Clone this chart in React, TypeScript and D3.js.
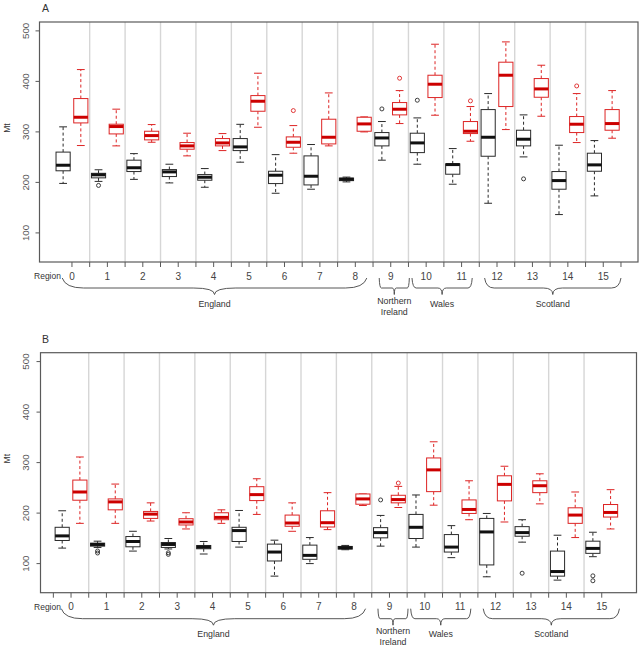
import React from "react";
import * as d3 from "d3";

// ---------- DATA ----------
const regionLabels = ["0", "1", "2", "3", "4", "5", "6", "7", "8", "9", "10", "11", "12", "13", "14", "15"];
const groupNames = ["England", "Northern Ireland", "Wales", "Scotland"];
const yTicks = [100, 200, 300, 400, 500];

// Each row: [lower whisker, Q1, median, Q3, upper whisker]
const aBlack = [
  [198, 223, 234, 260, 310], [202, 209, 215, 218, 225], [206, 221.5, 229, 244, 257], [199, 211.6, 220.8, 225.4, 236],
  [190.4, 204.3, 210.2, 215.5, 227.4], [240, 263, 270.3, 286.8, 315], [178.5, 197.7, 214.2, 222.1, 255], [186.5, 195, 212.2, 252.5, 275],
  [201, 203.5, 206.3, 208.5, 210.5], [244, 272.3, 288, 298.7, 320.5], [236, 259, 278.2, 297.4, 327.7], [196.4, 216.2, 235.3, 236.6, 267],
  [158.7, 251.8, 289.4, 344.2, 375.9], [250.5, 272.3, 285.5, 303.3, 333.7], [136.3, 186.5, 203.6, 221.5, 273.6], [173.3, 222.1, 234.7, 257.8, 282.8],
];
const aBlackOut = [[], [194], [], [], [], [], [], [], [], [345.5], [362.7], [], [], [207], [], []];
const aRed = [
  [273, 317.8, 329, 366, 423.4], [272.3, 296, 310.6, 315.2, 345], [279.5, 284.2, 292.7, 301.3, 314.5], [252.5, 265.7, 272.3, 278.9, 297.4],
  [263, 272.3, 278.2, 286.8, 296.7], [309.2, 340.9, 360.7, 371.9, 416.2], [257.8, 269.6, 279.5, 290.1, 312.5], [272.3, 276.2, 289.4, 325.1, 377.2],
  [300, 301.3, 315.8, 329, 329.7], [316.5, 333.7, 344.9, 358.1, 381.8], [333, 368, 394.4, 412.2, 473.6], [281.5, 296.7, 301.3, 320.5, 350.2],
  [304.6, 350.2, 412.2, 438, 478.2], [331, 368.6, 385.1, 405.6, 432], [278.9, 298.7, 315.2, 330.4, 375.9], [287.5, 303.3, 316.5, 344.2, 381.8],
];
const aRedOut = [[], [], [], [], [], [], [342.2], [], [], [406.3], [], [361.4], [], [], [391], []];

const bBlack = [
  [130.7, 145.8, 154.9, 171.9, 204.6], [132, 134.6, 137.9, 140.5, 144.4], [124.8, 133.3, 143.8, 153.6, 164], [129, 132, 137.9, 141.8, 149.7],
  [119, 129.4, 132.7, 135.9, 143.8], [132.7, 143.8, 165.4, 171.9, 205.2], [75.2, 105.2, 122.9, 138.6, 146.4], [100, 108.5, 116.3, 136.6, 151.6],
  [127.5, 128.8, 131.4, 134, 136], [134.6, 151, 161.4, 171.2, 195.4], [132.7, 149.7, 171.9, 197.4, 235.9], [111.8, 122.9, 132.7, 157.5, 175.2],
  [73.9, 97.4, 162.7, 189.5, 199.3], [142.5, 154.2, 161.4, 173.2, 186.9], [67.3, 75.2, 84.3, 124.8, 156.2], [113.7, 120.3, 130.1, 144.4, 162.1],
];
const bBlackOut = [[], [125, 121], [], [121.5, 118.3], [], [], [], [], [], [226.1], [], [], [], [81], [], [75.8, 66]];
const bRed = [
  [179.7, 225.5, 241.8, 265.4, 311.1], [179.7, 206.5, 222.2, 228.1, 257.5], [184.3, 189.5, 198, 203.3, 220.3], [168.6, 176.5, 182.4, 188.9, 200.7],
  [179.7, 186.9, 191.5, 200.7, 206.5], [197.4, 224.8, 236.6, 252.3, 268], [164, 173.9, 180.4, 196.1, 220.3], [167.3, 172.5, 181, 204.6, 240.5],
  [215, 217.6, 228.1, 237.9, 237.9], [211.1, 220.3, 226.8, 235.3, 252.9], [215.7, 242.5, 285.6, 309.2, 341.2], [186.9, 199.3, 207.2, 226.1, 264],
  [182.4, 224.2, 256.9, 273.9, 292.8], [218.3, 240.5, 254.2, 264, 277.8], [151.6, 179.7, 196.1, 210.5, 241.8], [168.6, 192.2, 201.3, 217, 246.4],
];
const bRedOut = [[], [], [], [], [], [], [], [], [], [259.5], [], [], [], [], [], []];

// ---------- LAYOUT ----------
const FONT = "'Liberation Sans', Arial, sans-serif";
const BLACK = "#2a2a2a";
const RED = "#dd2424";
const RED_MED = "#cc0000";
const groupSpans = [[0.95, 18.15], [18.85, 20.55], [20.7, 24.1], [24.8, 32.5]];

const panels = [
  { label: "A", top: 22, bottom: 262, left: 39.5, right: 638, xa: 45.4, xb: 17.71, tickFrom: 1.5, tickTo: 32.5,
    black: aBlack, red: aRed, blackOut: aBlackOut, redOut: aRedOut },
  { label: "B", top: 352.7, bottom: 592.7, left: 40.5, right: 636.5, xa: 44.5, xb: 17.69, tickFrom: 0.5, tickTo: 31.5,
    black: bBlack, red: bRed, blackOut: bBlackOut, redOut: bRedOut },
];

function bracePath(x1: number, x2: number, yEnd: number, yFlat: number, yTip: number) {
  const w = x2 - x1;
  const q = Math.max(2, 0.07 * w);
  const mid = (x1 + x2) / 2;
  return `M${x1},${yEnd} Q${x1 + q * 0.15},${yFlat} ${x1 + q},${yFlat} L${mid - q},${yFlat} Q${mid},${yFlat} ${mid},${yTip} Q${mid},${yFlat} ${mid + q},${yFlat} L${x2 - q},${yFlat} Q${x2 - q * 0.15},${yFlat} ${x2},${yEnd}`;
}

function Box({ x, w, s, y, color, medColor, outliers }: any) {
  const [lo, q1, med, q3, hi] = s;
  const cap = w * 0.55;
  return (
    <g>
      <line x1={x} x2={x} y1={y(q3)} y2={y(hi)} stroke={color} strokeWidth={1} strokeDasharray="3,2.5" />
      <line x1={x} x2={x} y1={y(q1)} y2={y(lo)} stroke={color} strokeWidth={1} strokeDasharray="3,2.5" />
      <line x1={x - cap / 2} x2={x + cap / 2} y1={y(hi)} y2={y(hi)} stroke={color} strokeWidth={1} />
      <line x1={x - cap / 2} x2={x + cap / 2} y1={y(lo)} y2={y(lo)} stroke={color} strokeWidth={1} />
      <rect x={x - w / 2} y={y(q3)} width={w} height={Math.max(0.5, y(q1) - y(q3))} fill="white" stroke={color} strokeWidth={1} />
      <line x1={x - w / 2} x2={x + w / 2} y1={y(med)} y2={y(med)} stroke={medColor} strokeWidth={3} />
      {outliers.map((o: number, i: number) => (
        <circle key={i} cx={x} cy={y(o)} r={2} fill="none" stroke={color} strokeWidth={0.9} />
      ))}
    </g>
  );
}

function Panel({ p }: any) {
  const y = d3.scaleLinear().domain([42.4, 517.6]).range([p.bottom, p.top]);
  const x = d3.scaleLinear().domain([0, 33]).range([p.xa, p.xa + 33 * p.xb]);
  const boxW = 0.8 * p.xb;
  const ticks = d3.range(p.tickFrom, p.tickTo + 0.01, 1);
  const seps = d3.range(2.5, 31, 2);
  const lab = p.bottom + 17.5;
  const bEnd = p.bottom + 16;
  const bFlat = p.bottom + 26;
  const bTip = p.bottom + 32.5;
  const gText = p.bottom + 44.5;
  return (
    <g>
      <text x={42} y={p.top - 10} fontSize={10.5} fill="#333" fontFamily={FONT}>{p.label}</text>
      {seps.map((s: number) => (
        <line key={s} x1={x(s)} x2={x(s)} y1={p.top} y2={p.bottom} stroke="#d6d6d6" strokeWidth={1.4} />
      ))}
      <rect x={p.left} y={p.top} width={p.right - p.left} height={p.bottom - p.top} fill="none" stroke="#5a5a5a" strokeWidth={1.2} />
      {/* y axis */}
      {yTicks.map((t) => (
        <g key={t}>
          <line x1={p.left - 4} x2={p.left} y1={y(t)} y2={y(t)} stroke="#5a5a5a" strokeWidth={1} />
          <text transform={`translate(${25},${y(t)}) rotate(-90)`} textAnchor="middle" dominantBaseline="central"
            fontSize={9.8} fill="#555" fontFamily={FONT}>{t}</text>
        </g>
      ))}
      <text transform={`translate(${7},${(p.top + p.bottom) / 2 - 14}) rotate(-90)`} textAnchor="middle" dominantBaseline="central"
        fontSize={8.5} fill="#333" fontFamily={FONT}>Mt</text>
      {/* x axis */}
      {ticks.map((t: number) => (
        <line key={t} x1={x(t)} x2={x(t)} y1={p.bottom} y2={p.bottom + 5} stroke="#5a5a5a" strokeWidth={1} />
      ))}
      {regionLabels.map((r, i) => (
        <text key={r} x={x(2 * i + 1.5)} y={lab} textAnchor="middle" fontSize={10} fill="#444" fontFamily={FONT}>{r}</text>
      ))}
      <text x={47.5} y={lab - 0.5} textAnchor="middle" fontSize={8.5} fill="#333" fontFamily={FONT}>Region</text>
      {/* braces */}
      {groupNames.map((g, i) => {
        const [s0, s1] = groupSpans[i];
        const x1 = x(s0), x2 = x(s1), mid = (x1 + x2) / 2;
        const words = g === "Northern Ireland" ? ["Northern", "Ireland"] : [g];
        return (
          <g key={g}>
            <path d={bracePath(x1, x2, bEnd, bFlat, bTip)} fill="none" stroke="#444" strokeWidth={0.9} />
            {words.map((w, k) => (
              <text key={w} x={mid} y={words.length > 1 ? gText - 3 + k * 11 : gText} textAnchor="middle"
                fontSize={8.8} fill="#333" fontFamily={FONT}>{w}</text>
            ))}
          </g>
        );
      })}
      {/* boxes */}
      {regionLabels.map((r, i) => (
        <g key={"b" + r}>
          <Box x={x(2 * i + 1)} w={boxW} s={p.black[i]} y={y} color={BLACK} medColor="#111" outliers={p.blackOut[i]} />
          <Box x={x(2 * i + 2)} w={boxW} s={p.red[i]} y={y} color={RED} medColor={RED_MED} outliers={p.redOut[i]} />
        </g>
      ))}
    </g>
  );
}

export default function App() {
  return (
    <svg width={642} height={650} style={{ position: "absolute", left: 0, top: 0, background: "white" }}>
      <rect width={642} height={650} fill="white" />
      {panels.map((p) => (
        <Panel key={p.label} p={p} />
      ))}
    </svg>
  );
}
